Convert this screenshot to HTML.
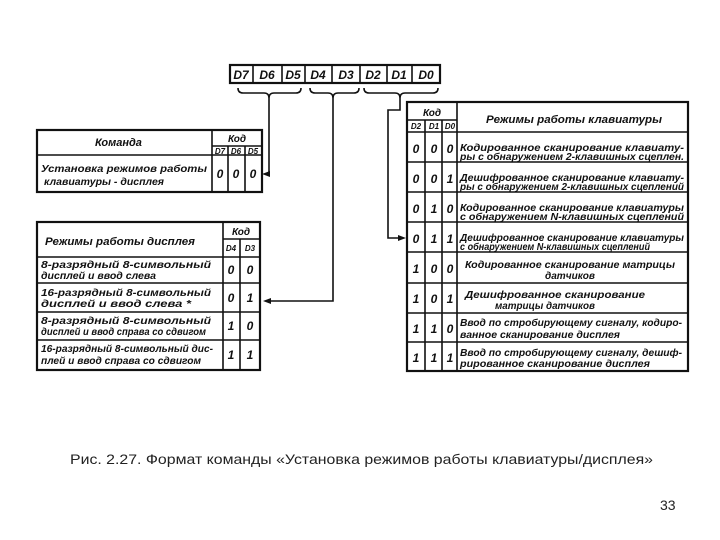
<!DOCTYPE html>
<html><head><meta charset="utf-8"><style>
html,body{margin:0;padding:0;background:#fff;width:720px;height:540px;overflow:hidden}
svg{display:block}
.t{font-family:"Liberation Sans",sans-serif;font-style:italic;font-size:10px;fill:#111;font-weight:bold}
.h{font-family:"Liberation Sans",sans-serif;font-style:italic;font-size:11px;fill:#111;font-weight:bold}
.c{font-family:"Liberation Sans",sans-serif;font-style:italic;font-size:12px;fill:#111;text-anchor:middle;font-weight:bold}
.s{font-family:"Liberation Sans",sans-serif;font-style:italic;font-size:8px;fill:#111;text-anchor:middle;font-weight:bold}
</style></head><body>
<svg width="720" height="540" viewBox="0 0 720 540" xmlns="http://www.w3.org/2000/svg">
<g stroke="#111" fill="none" stroke-width="1.6">
<rect x="230" y="65" width="210" height="18" stroke-width="2.2"/>
<path d="M253 65V83M282 65V83M305 65V83M332 65V83M360 65V83M387 65V83M412 65V83"/>
<path d="M238 88q0 5 5 5h21q5 0 5 5q0-5 5-5h22q5 0 5-5"/>
<path d="M310 88q0 5 5 5h13q5 0 5 5q0-5 5-5h16q5 0 5-5"/>
<path d="M364 88q0 5 5 5h26q5 0 5 5q0-5 5-5h28q5 0 5-5"/>
<path d="M269 98V174H266"/>
<path d="M333 98V301H266"/>
<path d="M400 98V110H388V238H400"/>
</g>
<g fill="#111">
<path d="M262 174l8-3v6z"/>
<path d="M263 301l8-3v6z"/>
<path d="M406 238l-8-3v6z"/>
</g>
<g class="c">
<text x="241" y="79">D7</text><text x="267" y="79">D6</text><text x="293" y="79">D5</text><text x="318" y="79">D4</text><text x="346" y="79">D3</text><text x="373" y="79">D2</text><text x="399" y="79">D1</text><text x="426" y="79">D0</text>
</g>
<g stroke="#111" fill="none" stroke-width="1.6">
<rect x="37" y="130" width="225" height="62" stroke-width="2.2"/>
<path d="M37 155H262M212 130V192M212 146H262M228 146V192M245 146V192"/>
</g>
<text class="h" x="95" y="146">Команда</text>
<text class="c" x="237" y="142" style="font-size:10px">Код</text>
<text class="s" x="220" y="154">D7</text><text class="s" x="236" y="154">D6</text><text class="s" x="253" y="154">D5</text>
<text class="t" x="41" y="172" textLength="166" lengthAdjust="spacingAndGlyphs">Установка режимов работы</text>
<text class="t" x="44" y="185" textLength="120" lengthAdjust="spacingAndGlyphs">клавиатуры - дисплея</text>
<text class="c" x="220" y="178">0</text><text class="c" x="236" y="178">0</text><text class="c" x="253" y="178">0</text>
<g stroke="#111" fill="none" stroke-width="1.6">
<rect x="37" y="222" width="223" height="148" stroke-width="2.2"/>
<path d="M37 257H260M223 222V370M223 239H260M240 239V370M37 283H260M37 312H260M37 340H260"/>
</g>
<text class="h" x="45" y="245" textLength="150" lengthAdjust="spacingAndGlyphs">Режимы работы дисплея</text>
<text class="c" x="241" y="235" style="font-size:10px">Код</text>
<text class="s" x="231" y="251">D4</text><text class="s" x="250" y="251">D3</text>
<text class="t" x="41" y="268" textLength="170" lengthAdjust="spacingAndGlyphs">8-разрядный  8-символьный</text>
<text class="t" x="41" y="279" textLength="115" lengthAdjust="spacingAndGlyphs">дисплей  и  ввод  слева</text>
<text class="t" x="41" y="296" textLength="170" lengthAdjust="spacingAndGlyphs">16-разрядный  8-символьный</text>
<text class="t" x="41" y="307" textLength="150" lengthAdjust="spacingAndGlyphs">дисплей  и  ввод  слева *</text>
<text class="t" x="41" y="324" textLength="170" lengthAdjust="spacingAndGlyphs">8-разрядный  8-символьный</text>
<text class="t" x="41" y="335" textLength="165" lengthAdjust="spacingAndGlyphs">дисплей и ввод справа со сдвигом</text>
<text class="t" x="41" y="352" textLength="172" lengthAdjust="spacingAndGlyphs">16-разрядный  8-символьный дис-</text>
<text class="t" x="41" y="364" textLength="160" lengthAdjust="spacingAndGlyphs">плей и ввод справа со сдвигом</text>
<g class="c">
<text x="231" y="274">0</text><text x="250" y="274">0</text>
<text x="231" y="302">0</text><text x="250" y="302">1</text>
<text x="231" y="330">1</text><text x="250" y="330">0</text>
<text x="231" y="359">1</text><text x="250" y="359">1</text>
</g>
<g stroke="#111" fill="none" stroke-width="1.6">
<rect x="407" y="102" width="281" height="269" stroke-width="2.2"/>
<path d="M407 132H688M457 102V371M407 120H457M425 120V371M442 120V371"/>
<path d="M407 162H688M407 192H688M407 222H688M407 252H688M407 283H688M407 313H688M407 342H688"/>
</g>
<text class="c" x="432" y="116" style="font-size:10px">Код</text>
<text class="s" x="416" y="129">D2</text><text class="s" x="434" y="129">D1</text><text class="s" x="450" y="129">D0</text>
<text class="h" x="486" y="123" textLength="176" lengthAdjust="spacingAndGlyphs">Режимы работы клавиатуры</text>
<g class="t">
<text x="460" y="151" textLength="224" lengthAdjust="spacingAndGlyphs">Кодированное сканирование клавиату-</text>
<text x="460" y="160" textLength="224" lengthAdjust="spacingAndGlyphs">ры с обнаружением 2-клавишных сцеплен.</text>
<text x="460" y="181" textLength="224" lengthAdjust="spacingAndGlyphs">Дешифрованное сканирование клавиату-</text>
<text x="460" y="190" textLength="224" lengthAdjust="spacingAndGlyphs">ры с обнаружением 2-клавишных сцеплений</text>
<text x="460" y="211" textLength="224" lengthAdjust="spacingAndGlyphs">Кодированное сканирование клавиатуры</text>
<text x="460" y="220" textLength="224" lengthAdjust="spacingAndGlyphs">с обнаружением N-клавишных сцеплений</text>
<text x="460" y="241" textLength="224" lengthAdjust="spacingAndGlyphs">Дешифрованное сканирование клавиатуры</text>
<text x="460" y="250" textLength="190" lengthAdjust="spacingAndGlyphs">с обнаружением N-клавишных сцеплений</text>
<text x="465" y="268" textLength="210" lengthAdjust="spacingAndGlyphs">Кодированное сканирование матрицы</text>
<text x="545" y="279" textLength="50" lengthAdjust="spacingAndGlyphs">датчиков</text>
<text x="465" y="298" textLength="180" lengthAdjust="spacingAndGlyphs">Дешифрованное сканирование</text>
<text x="495" y="309" textLength="100" lengthAdjust="spacingAndGlyphs">матрицы датчиков</text>
<text x="460" y="326" textLength="222" lengthAdjust="spacingAndGlyphs">Ввод по стробирующему сигналу, кодиро-</text>
<text x="460" y="338" textLength="160" lengthAdjust="spacingAndGlyphs">ванное сканирование дисплея</text>
<text x="460" y="356" textLength="222" lengthAdjust="spacingAndGlyphs">Ввод по стробирующему сигналу, дешиф-</text>
<text x="460" y="367" textLength="190" lengthAdjust="spacingAndGlyphs">рированное сканирование дисплея</text>
</g>
<g class="c">
<text x="416" y="153">0</text><text x="434" y="153">0</text><text x="450" y="153">0</text>
<text x="416" y="183">0</text><text x="434" y="183">0</text><text x="450" y="183">1</text>
<text x="416" y="213">0</text><text x="434" y="213">1</text><text x="450" y="213">0</text>
<text x="416" y="243">0</text><text x="434" y="243">1</text><text x="450" y="243">1</text>
<text x="416" y="273">1</text><text x="434" y="273">0</text><text x="450" y="273">0</text>
<text x="416" y="303">1</text><text x="434" y="303">0</text><text x="450" y="303">1</text>
<text x="416" y="333">1</text><text x="434" y="333">1</text><text x="450" y="333">0</text>
<text x="416" y="362">1</text><text x="434" y="362">1</text><text x="450" y="362">1</text>
</g>
<text x="70" y="464" font-family="Liberation Sans, sans-serif" font-size="14" fill="#222" textLength="583" lengthAdjust="spacingAndGlyphs">Рис. 2.27. Формат команды «Установка режимов работы клавиатуры/дисплея»</text>
<text x="660" y="510" font-family="Liberation Sans, sans-serif" font-size="14" fill="#222">33</text>
</svg>
</body></html>
